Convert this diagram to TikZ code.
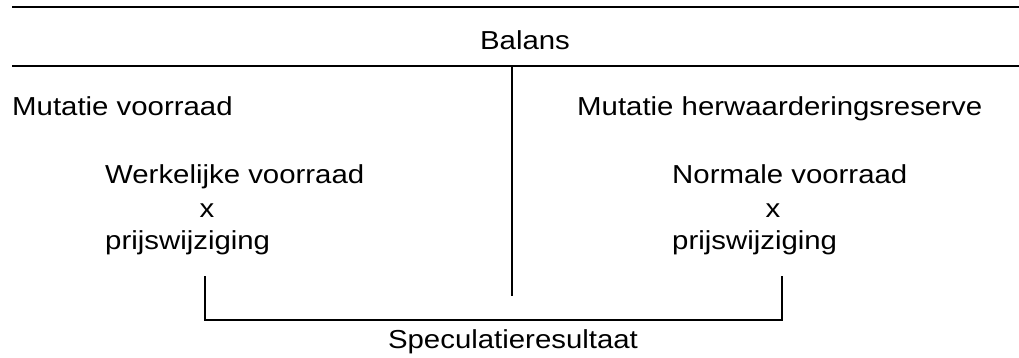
\documentclass[tikz,border=0pt]{standalone}
\usepackage{fontspec}
\setmainfont{Liberation Sans}[FakeStretch=1.13]

\begin{document}
\begin{tikzpicture}
[x=1pt, y=-1pt,
balans line/.style={line width=2pt},
balans thinline/.style={line width=1.3pt},
balans text/.style={font=\fontsize{26}{32}\selectfont, inner sep=0pt},
balans lefttext/.style={balans text, anchor=base west},
balans midtext/.style={balans text, anchor=base}
]
\useasboundingbox (0,0) rectangle (1019,358);

% header lines
\coordinate (L1) at (12,7);
\coordinate (R1) at (1019,7);
\coordinate (L2) at (12,66);
\coordinate (R2) at (1019,66);
\draw[balans line] (L1) -- (R1);
\draw[balans line] (L2) -- (R2);
\node[balans midtext] (B) at (525,50) {Balans};

% middle split
\coordinate (T) at (512,66);
\coordinate (U) at (512,296);
\draw[balans thinline] (T) -- (U);

% left side
\node[balans lefttext] (M1) at (12,116) {Mutatie voorraad};
\node[balans lefttext] (W1) at (105,184) {Werkelijke voorraad};
\node[balans midtext] (X1) at (207,217) {x};
\node[balans lefttext] (P1) at (105,249) {prijswijziging};

% right side
\node[balans lefttext] (M2) at (577,116) {Mutatie herwaarderingsreserve};
\node[balans lefttext] (W2) at (672,184) {Normale voorraad};
\node[balans midtext] (X2) at (773,217) {x};
\node[balans lefttext] (P2) at (672,249) {prijswijziging};

% bracket
\coordinate (K1) at (205,276);
\coordinate (K2) at (205,320);
\coordinate (K3) at (782,320);
\coordinate (K4) at (782,276);
\draw[balans thinline] (K1) -- (K2) -- (K3) -- (K4);
\node[balans midtext] (S) at (513,348) {Speculatieresultaat};

\end{tikzpicture}
\end{document}
